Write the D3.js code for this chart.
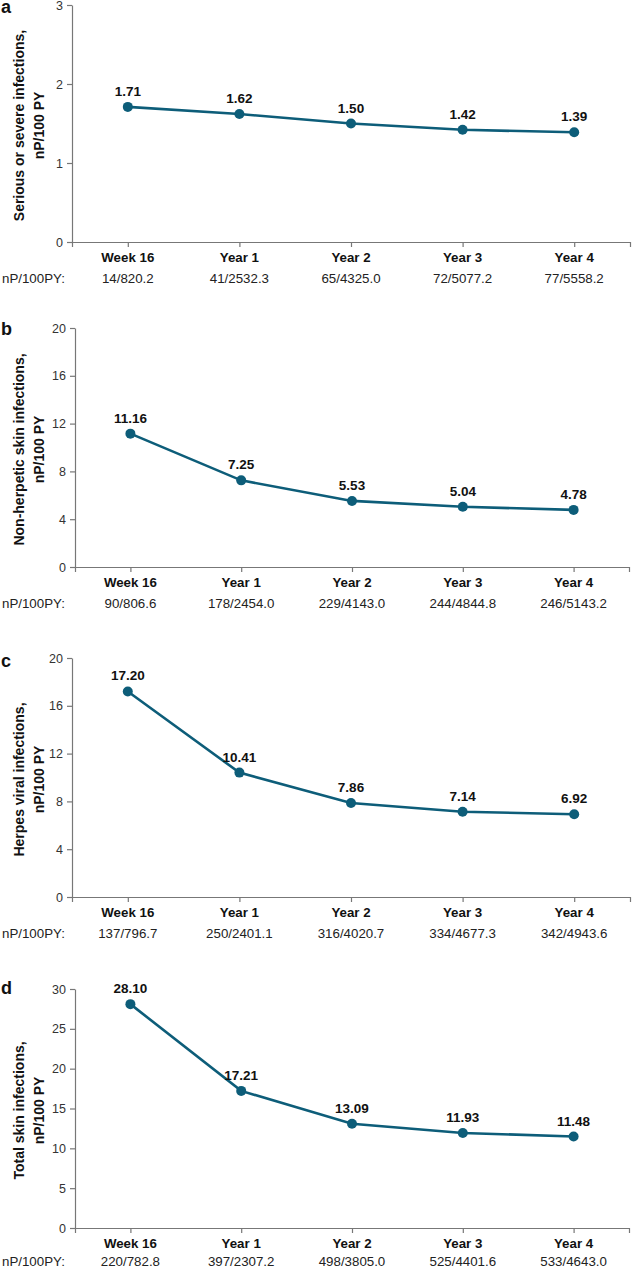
<!DOCTYPE html>
<html>
<head>
<meta charset="utf-8">
<script src="https://cdn.jsdelivr.net/npm/d3@7"></script>
<style>
  body { margin: 0; background: #fff; }
  svg { display: block; font-family: "Liberation Sans", Arial, Helvetica, sans-serif; }
  .tick text { fill: #333; }
</style>
</head>
<body>
<div id="chart"></div>
<script>
// timepoints shared by all four panels
const categories = ["Week 16", "Year 1", "Year 2", "Year 3", "Year 4"];

// exposure-adjusted rates, nP/100 PY
const seriousValues = [1.71, 1.62, 1.50, 1.42, 1.39];
const nonHerpeticValues = [11.16, 7.25, 5.53, 5.04, 4.78];
const herpesValues = [17.20, 10.41, 7.86, 7.14, 6.92];
const totalSkinValues = [28.10, 17.21, 13.09, 11.93, 11.48];

// nP / 100PY rows under each panel
const seriousCounts = ["14/820.2", "41/2532.3", "65/4325.0", "72/5077.2", "77/5558.2"];
const nonHerpeticCounts = ["90/806.6", "178/2454.0", "229/4143.0", "244/4844.8", "246/5143.2"];
const herpesCounts = ["137/796.7", "250/2401.1", "316/4020.7", "334/4677.3", "342/4943.6"];
const totalSkinCounts = ["220/782.8", "397/2307.2", "498/3805.0", "525/4401.6", "533/4643.0"];

// y tick labels
const seriousTicks = [0, 1, 2, 3];
const nonHerpeticTicks = [0, 4, 8, 12, 16, 20];
const herpesTicks = [0, 4, 8, 12, 16, 20];
const totalSkinTicks = [0, 5, 10, 15, 20, 25, 30];

const width = 633, height = 1270;
const lineColor = "#0d5d79";
const axisColor = "#777";

const panels = [
  { letter: "a", title: ["Serious or severe infections,", "nP/100 PY"], values: seriousValues, counts: seriousCounts, ticks: seriousTicks,
    left: 72, right: 630, top: 5, bottom: 242, letterY: 13 },
  { letter: "b", title: ["Non-herpetic skin infections,", "nP/100 PY"], values: nonHerpeticValues, counts: nonHerpeticCounts, ticks: nonHerpeticTicks,
    left: 75, right: 629, top: 328, bottom: 567, letterY: 335 },
  { letter: "c", title: ["Herpes viral infections,", "nP/100 PY"], values: herpesValues, counts: herpesCounts, ticks: herpesTicks,
    left: 72, right: 630, top: 658, bottom: 897, letterY: 667 },
  { letter: "d", title: ["Total skin infections,", "nP/100 PY"], values: totalSkinValues, counts: totalSkinCounts, ticks: totalSkinTicks,
    left: 75, right: 629, top: 989, bottom: 1228, letterY: 994 }
];

const svg = d3.select("#chart").append("svg")
  .attr("width", width)
  .attr("height", height)
  .attr("viewBox", [0, 0, width, height]);

panels.forEach(p => {
  const g = svg.append("g");

  const x = d3.scalePoint()
    .domain(categories)
    .range([p.left, p.right])
    .padding(0.5);

  const y = d3.scaleLinear()
    .domain([0, d3.max(p.ticks)])
    .range([p.bottom, p.top]);

  // y axis
  g.append("g")
    .attr("transform", `translate(${p.left},0)`)
    .call(d3.axisLeft(y).tickValues(p.ticks).tickFormat(d3.format("d")).tickSize(5).tickSizeOuter(0).tickPadding(4))
    .call(a => a.selectAll("path, line").attr("stroke", axisColor).attr("stroke-width", 1.2))
    .call(a => a.selectAll("text").attr("font-size", 12.5));

  // x axis
  g.append("g")
    .attr("transform", `translate(0,${p.bottom})`)
    .call(d3.axisBottom(x).tickSize(5).tickSizeOuter(5).tickFormat(() => ""))
    .call(a => a.selectAll("path, line").attr("stroke", axisColor).attr("stroke-width", 1.2));

  // category labels
  g.append("g").selectAll("text")
    .data(categories)
    .join("text")
      .attr("x", d => x(d))
      .attr("y", p.bottom + 20)
      .attr("text-anchor", "middle")
      .attr("font-size", 13.3)
      .attr("font-weight", "bold")
      .attr("fill", "#111")
      .text(d => d);

  // nP/100PY row
  const rowY = Math.min(p.bottom + 41, height - 4);
  g.append("text")
    .attr("x", 2)
    .attr("y", rowY)
    .attr("font-size", 13.3)
    .attr("fill", "#222")
    .text("nP/100PY:");

  g.append("g").selectAll("text")
    .data(p.counts)
    .join("text")
      .attr("x", (d, i) => x(categories[i]))
      .attr("y", rowY)
      .attr("text-anchor", "middle")
      .attr("font-size", 13.3)
      .attr("fill", "#222")
      .text(d => d);

  // panel letter
  g.append("text")
    .attr("x", 1)
    .attr("y", p.letterY)
    .attr("font-size", 18)
    .attr("font-weight", "bold")
    .attr("fill", "#111")
    .text(p.letter);

  // y title
  const cy = (p.top + p.bottom) / 2 + 2;
  const t = g.append("text")
    .attr("transform", `translate(0,${cy}) rotate(-90)`)
    .attr("text-anchor", "middle")
    .attr("font-size", 14)
    .attr("font-weight", "bold")
    .attr("fill", "#111");
  t.append("tspan").attr("x", 0).attr("y", 24).text(p.title[0]);
  t.append("tspan").attr("x", 0).attr("y", 43.5).text(p.title[1]);

  // line + points
  const line = d3.line()
    .x((d, i) => x(categories[i]))
    .y(d => y(d));

  g.append("path")
    .datum(p.values)
    .attr("fill", "none")
    .attr("stroke", lineColor)
    .attr("stroke-width", 2.6)
    .attr("d", line);

  g.append("g").selectAll("circle")
    .data(p.values)
    .join("circle")
      .attr("cx", (d, i) => x(categories[i]))
      .attr("cy", d => y(d))
      .attr("r", 5)
      .attr("fill", lineColor);

  g.append("g").selectAll("text")
    .data(p.values)
    .join("text")
      .attr("x", (d, i) => x(categories[i]))
      .attr("y", d => y(d) - 11)
      .attr("text-anchor", "middle")
      .attr("font-size", 13.5)
      .attr("font-weight", "bold")
      .attr("fill", "#111")
      .text(d => d3.format(".2f")(d));
});
</script>
</body>
</html>
